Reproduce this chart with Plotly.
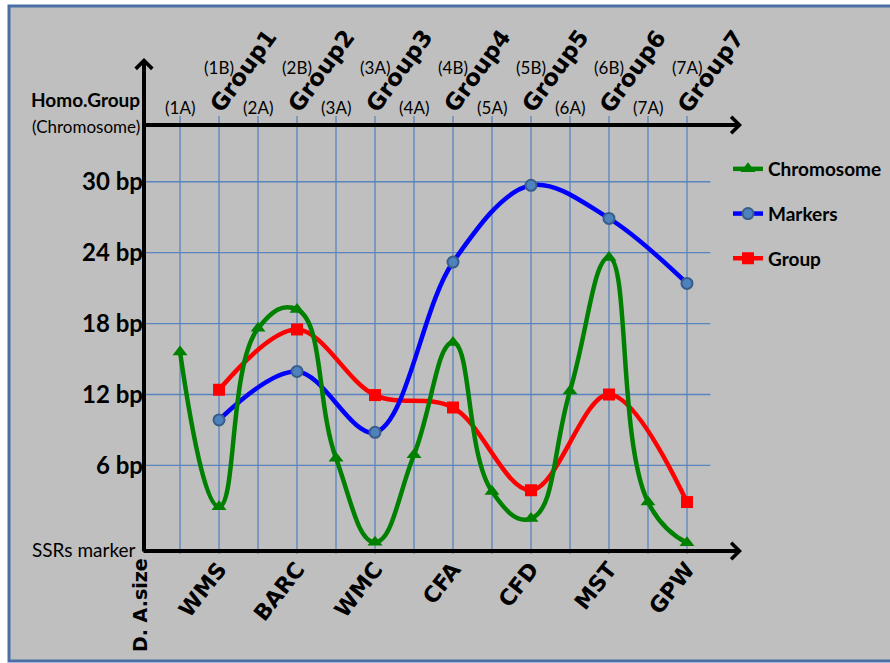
import plotly.graph_objects as go

# ---- data -------------------------------------------------------------
categories = ["WMS", "BARC", "WMC", "CFA", "CFD", "MST", "GPW"]
cat_x = [0, 1, 2, 3, 4, 5, 6]

# chromosome points sit on every half step (A and B chromosomes)
chrom_x = [-0.5, 0, 0.5, 1, 1.5, 2, 2.5, 3, 3.5, 4, 4.5, 5, 5.5, 6]
chromosome = [15.6, 2.5, 17.6, 19.2, 6.6, -0.5, 6.9, 16.4, 3.8, 1.5, 12.3, 23.6, 2.9, -0.55]
markers = [9.85, 13.95, 8.8, 23.2, 29.7, 26.9, 21.4]
group = [12.4, 17.5, 11.95, 10.9, 3.9, 12.0, 2.9]

a_labels = ["(1A)", "(2A)", "(3A)", "(4A)", "(5A)", "(6A)", "(7A)"]
b_labels = ["(1B)", "(2B)", "(3A)", "(4B)", "(5B)", "(6B)", "(7A)"]
group_labels = ["Group1", "Group2", "Group3", "Group4", "Group5", "Group6", "Group7"]

y_ticks = [6, 12, 18, 24, 30]
y_ticktext = ["6 bp", "12 bp", "18 bp", "24 bp", "30 bp"]

# ---- layout geometry (pixels) ------------------------------------------
W, H = 890, 663
L, R, T, B = 144, 890, 125, 551
X_RANGE = [-0.962, 8.603]
Y_RANGE = [-1.24, 34.8]


def xp(px):
    return (px - L) / (R - L)


def yp(py):
    return (B - py) / (B - T)


SANS = "Lato"
WIDE = "DejaVu Sans"

fig = go.Figure()

fig.add_trace(go.Scatter(
    x=cat_x, y=group, name="Group", mode="lines+markers",
    line=dict(color="#FF0000", width=4.5, shape="spline", smoothing=1),
    marker=dict(symbol="square", size=12, color="#FF0000"),
    legendgroup="g", legendrank=3))
fig.add_trace(go.Scatter(
    x=cat_x, y=markers, name="Markers", mode="lines+markers",
    line=dict(color="#0000FF", width=4.5, shape="spline", smoothing=1),
    marker=dict(symbol="circle", size=11, color="#4F81BD",
                line=dict(color="#385D8A", width=2)),
    legendgroup="m", legendrank=2))
fig.add_trace(go.Scatter(
    x=chrom_x, y=chromosome, name="Chromosome", mode="lines+markers",
    line=dict(color="#008000", width=4.5, shape="spline", smoothing=1.3),
    marker=dict(symbol="triangle-up", size=13, color="#008000"),
    legendgroup="c", legendrank=1))

shapes = []
# panel background with border
shapes.append(dict(type="rect", xref="paper", yref="paper",
                   x0=xp(9), x1=xp(900), y0=yp(6), y1=yp(661),
                   fillcolor="#BFBFBF", line=dict(color="#4A6FA5", width=3),
                   layer="below"))
GRID = "#5A84C0"
# horizontal grid lines
for v in y_ticks:
    shapes.append(dict(type="line", xref="x", yref="y",
                       x0=X_RANGE[0], x1=6.3, y0=v, y1=v,
                       line=dict(color=GRID, width=1.3), layer="below"))
# vertical grid lines on every chromosome position
for xv in chrom_x:
    shapes.append(dict(type="line", xref="x", yref="paper",
                       x0=xv, x1=xv, y0=yp(554), y1=yp(116),
                       line=dict(color=GRID, width=1.3), layer="below"))

annotations = []
# axes drawn as arrows
axis_arrow = dict(text="", showarrow=True, arrowhead=4, arrowsize=0.8,
                  arrowwidth=4, arrowcolor="black", xref="paper", yref="paper",
                  axref="pixel", ayref="pixel")
annotations.append(dict(axis_arrow, x=xp(742), y=yp(551), ax=-(742 - 142), ay=0))
annotations.append(dict(axis_arrow, x=xp(742), y=yp(125), ax=-(742 - 142), ay=0))
annotations.append(dict(axis_arrow, x=xp(144), y=yp(58), ax=0, ay=(553 - 58)))


def label(x, y, text, font, xref="paper", xanchor="center", **kw):
    d = dict(x=x, y=y, xref=xref, yref="paper", text=text, showarrow=False,
             xanchor=xanchor, yanchor="middle", font=font)
    d.update(kw)
    annotations.append(d)


top_font = dict(family=SANS, size=17, color="black")
# chromosome labels along the top axis
for xv, t in zip(chrom_x[0::2], a_labels):
    label(xv, yp(107), t, top_font, xref="x")
for xv, t in zip(cat_x, b_labels):
    label(xv, yp(67), t, top_font, xref="x")
for xv, t in zip(cat_x, group_labels):
    label(xv, yp(71), "<b>%s</b>" % t, dict(family=WIDE, size=23, color="black"),
          xref="x", xshift=24, textangle=-54)

label(xp(142), yp(99), "<b>Homo.Group</b>", dict(family=SANS, size=19, color="black"),
      xanchor="right")
label(xp(142), yp(127), "(Chromosome)", dict(family=SANS, size=17, color="black"),
      xanchor="right")
label(xp(138), yp(549), "SSRs marker", dict(family=SANS, size=19, color="black"),
      xanchor="right")
label(xp(140), yp(605), "<b>D. A.size</b>", dict(family=WIDE, size=19, color="black"),
      textangle=-90)

fig.update_layout(
    width=W, height=H, autosize=False,
    margin=dict(l=L, r=W - R, t=T, b=H - B, pad=0),
    paper_bgcolor="white", plot_bgcolor="rgba(0,0,0,0)",
    shapes=shapes, annotations=annotations,
    showlegend=True,
    legend=dict(x=xp(728), y=yp(150), xanchor="left", yanchor="top",
                bgcolor="rgba(0,0,0,0)", borderwidth=0,
                traceorder="grouped", tracegroupgap=17, itemwidth=30,
                font=dict(family=SANS, size=19, color="black", weight="bold")),
    xaxis=dict(range=X_RANGE, tickvals=cat_x, ticktext=["<b>%s</b>" % c for c in categories],
               tickangle=-52, showgrid=False, zeroline=False, showline=False, ticks="",
               tickfont=dict(family=WIDE, size=22, color="black")),
    yaxis=dict(range=Y_RANGE, tickvals=y_ticks, ticktext=["<b>%s</b>" % t for t in y_ticktext],
               showgrid=False, zeroline=False, showline=False, ticks="",
               tickfont=dict(family=SANS, size=24, color="black")),
)

fig.write_html("out.html")
